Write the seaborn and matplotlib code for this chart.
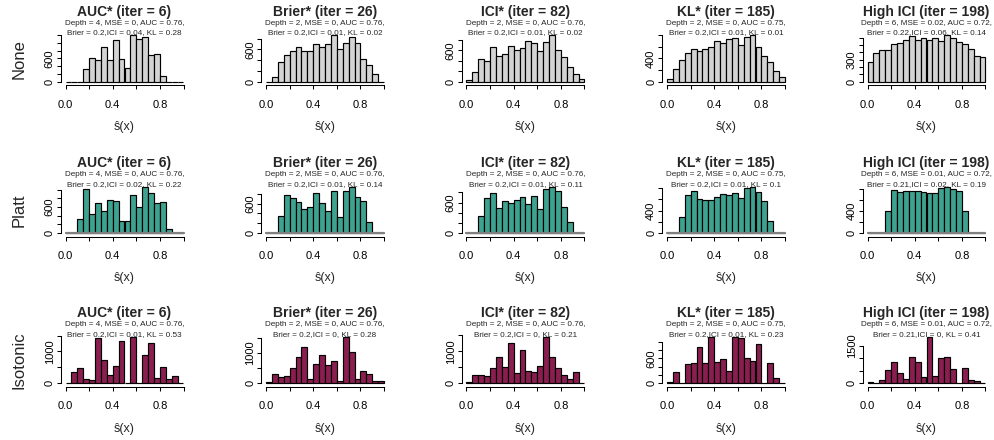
import numpy as np
import pandas as pd
import matplotlib
matplotlib.use("Agg")
import matplotlib.pyplot as plt
import seaborn as sns

# ---------------- data ----------------
bin_edges = [round(0.05 * i, 2) for i in range(21)]
bin_centers = [round(e + 0.025, 3) for e in bin_edges[:-1]]

methods = ["None", "Platt", "Isotonic"]
criteria = ["AUC*", "Brier*", "ICI*", "KL*", "High ICI"]
iters = [6, 26, 82, 185, 198]
depths = [4, 2, 2, 2, 6]
auc = ["0.76", "0.76", "0.76", "0.75", "0.72"]
mse = [["0", "0", "0", "0", "0.02"],
       ["0", "0", "0", "0", "0.01"],
       ["0", "0", "0", "0", "0.01"]]
brier = [["0.2", "0.2", "0.2", "0.2", "0.22"],
         ["0.2", "0.2", "0.2", "0.2", "0.21"],
         ["0.2", "0.2", "0.2", "0.2", "0.21"]]
ici = [["0.04", "0.01", "0.01", "0.01", "0.06"],
       ["0.02", "0.01", "0.01", "0.01", "0.02"],
       ["0.01", "0", "0", "0.01", "0"]]
kl = [["0.28", "0.02", "0.02", "0.01", "0.14"],
      ["0.22", "0.14", "0.11", "0.1", "0.19"],
      ["0.53", "0.28", "0.21", "0.23", "0.41"]]

# counts per bin (bins of width 0.05 from 0 to 1)
none_auc = [0, 0, 0, 340, 620, 570, 900, 570, 1080, 590, 360, 1190, 1100, 1140, 690, 710, 155, 0, 0, 0]
none_brier = [0, 82, 373, 500, 576, 651, 576, 576, 702, 639, 702, 860, 601, 721, 835, 721, 417, 316, 152, 0]
none_ici = [26, 187, 439, 394, 665, 491, 536, 678, 613, 639, 781, 749, 588, 768, 884, 600, 478, 291, 142, 52]
none_kl = [40, 214, 364, 491, 560, 531, 555, 601, 699, 659, 734, 751, 635, 757, 791, 595, 433, 329, 185, 75]
none_high = [270, 386, 432, 428, 507, 530, 563, 614, 563, 600, 563, 590, 549, 628, 595, 544, 507, 451, 349, 335]

platt_auc = [0, 0, 335, 1005, 441, 700, 510, 753, 738, 282, 282, 875, 594, 1065, 928, 685, 715, 91, 0, 0]
platt_brier = [0, 0, 348, 778, 717, 635, 491, 532, 819, 621, 457, 860, 328, 853, 942, 737, 655, 225, 0, 0]
platt_ici = [0, 0, 336, 691, 797, 487, 632, 592, 652, 704, 573, 724, 474, 869, 908, 829, 507, 224, 0, 0]
platt_kl = [0, 0, 283, 679, 744, 614, 596, 584, 643, 691, 679, 708, 626, 809, 821, 732, 573, 218, 0, 0]
platt_high = [0, 0, 0, 401, 772, 742, 760, 760, 760, 742, 724, 724, 815, 833, 803, 760, 401, 0, 0, 0]

iso_auc = [0, 368, 474, 126, 105, 1411, 737, 253, 547, 1316, 0, 1453, 0, 895, 1263, 158, 526, 126, 242, 0]
iso_brier = [44, 309, 199, 232, 497, 862, 1193, 155, 630, 928, 597, 740, 66, 1525, 1028, 144, 409, 309, 66, 66]
iso_ici = [52, 273, 252, 241, 472, 818, 504, 1248, 315, 1028, 378, 346, 556, 1448, 818, 483, 252, 147, 367, 0]
iso_kl = [24, 273, 0, 466, 490, 868, 482, 1109, 506, 587, 289, 1109, 1085, 603, 547, 941, 0, 490, 129, 0]
iso_high = [40, 0, 135, 539, 849, 418, 162, 1051, 863, 243, 1860, 297, 1024, 1078, 593, 0, 607, 135, 81, 27]

counts = [[none_auc, none_brier, none_ici, none_kl, none_high],
          [platt_auc, platt_brier, platt_ici, platt_kl, platt_high],
          [iso_auc, iso_brier, iso_ici, iso_kl, iso_high]]

x_tick_values = [0.0, 0.2, 0.4, 0.6, 0.8, 1.0]
x_tick_labels = ["0.0", "", "0.4", "", "0.8", ""]
y_steps = [[200, 200, 200, 200, 100],
           [200, 200, 200, 200, 200],
           [500, 500, 500, 200, 500]]
y_labeled = [[[0, 600], [0, 600], [0, 600], [0, 400], [0, 300]],
             [[0, 600], [0, 600], [0, 600], [0, 400], [0, 400]],
             [[0, 1000], [0, 1000], [0, 1000], [0, 600], [0, 1500]]]

# ---------------- style ----------------
sns.set_theme(style="ticks")
plt.rcParams["font.family"] = ["Liberation Sans", "DejaVu Sans"]
plt.rcParams["axes.edgecolor"] = "black"
plt.rcParams["axes.linewidth"] = 0.75
plt.rcParams["xtick.color"] = "black"
plt.rcParams["ytick.color"] = "black"

fills = ["#D3D3D3", "#3DA28F", "#8B1E50"]

W_PX, H_PX = 994, 440
fig = plt.figure(figsize=(W_PX / 100, H_PX / 100), dpi=100)
fig.patch.set_facecolor("white")

x0_px = [65.5 + 200.5 * c for c in range(5)]
unit_px = 118.0
region_bottom_px = [83.6, 235.0, 385.2]
region_h = 50.0

for r in range(3):
    for c in range(5):
        left = x0_px[c] - 0.04 * unit_px
        width = 1.08 * unit_px
        bottom = H_PX - region_bottom_px[r]
        ax = fig.add_axes([left / W_PX, bottom / H_PX, width / W_PX, region_h / H_PX])
        ax.set_facecolor("white")
        vals = counts[r][c]
        df = pd.DataFrame({"s": bin_centers, "n": vals})
        sns.histplot(data=df, x="s", weights="n", bins=bin_edges, color=fills[r],
                     edgecolor="black", linewidth=0.85, alpha=1, ax=ax)
        if r == 1:
            ax.plot([0, 1], [0, 0], color="#808080", lw=1.6, zorder=5)
        ymax = max(vals)
        ax.set_xlim(-0.04, 1.04)
        ax.set_ylim(-0.04 * ymax, 1.04 * ymax)
        for s in ["top", "right"]:
            ax.spines[s].set_visible(False)
        ax.spines["bottom"].set_position(("outward", 1.2))
        yt = np.arange(0, 1.04 * ymax + 1e-9, y_steps[r][c])
        ax.set_yticks(yt)
        ax.set_yticklabels([str(int(v)) if int(v) in y_labeled[r][c] else "" for v in yt],
                           rotation=90, va="center")
        ax.spines["left"].set_bounds(0, yt[-1])
        ax.spines["bottom"].set_bounds(0, 1)
        ax.set_xticks(x_tick_values)
        ax.set_xticklabels(x_tick_labels)
        ax.tick_params(length=2.9, width=0.75, labelsize=8, direction="out",
                       left=True, bottom=True)
        ax.tick_params(axis="x", pad=7.5)
        ax.tick_params(axis="y", pad=1.5)
        ax.set_xlabel("")
        ax.set_ylabel("")

        cx = (x0_px[c] + 0.5 * unit_px) / W_PX
        top_px = region_bottom_px[r] - region_h
        fig.text(cx, 1 - (top_px - 21.9) / H_PX, f"{criteria[c]} (iter = {iters[c]})",
                 ha="center", va="center", fontsize=10, fontweight="bold")
        fig.text(cx, 1 - (top_px - 10.3) / H_PX,
                 f"Depth = {depths[c]}, MSE = {mse[r][c]}, AUC = {auc[c]},",
                 ha="center", va="center", fontsize=5.9)
        fig.text(cx, 1 - (top_px - 0.9) / H_PX,
                 f"Brier = {brier[r][c]},ICI = {ici[r][c]}, KL = {kl[r][c]}",
                 ha="center", va="center", fontsize=5.9)
        fig.text(cx, 1 - (region_bottom_px[r] + 43.4) / H_PX, "ŝ(x)",
                 ha="center", va="center", fontsize=9)

    fig.text(19 / W_PX, 1 - (region_bottom_px[r] - region_h / 2) / H_PX, methods[r],
             rotation=90, ha="center", va="center", fontsize=12)

fig.savefig("out.png", dpi=100, facecolor="white")
